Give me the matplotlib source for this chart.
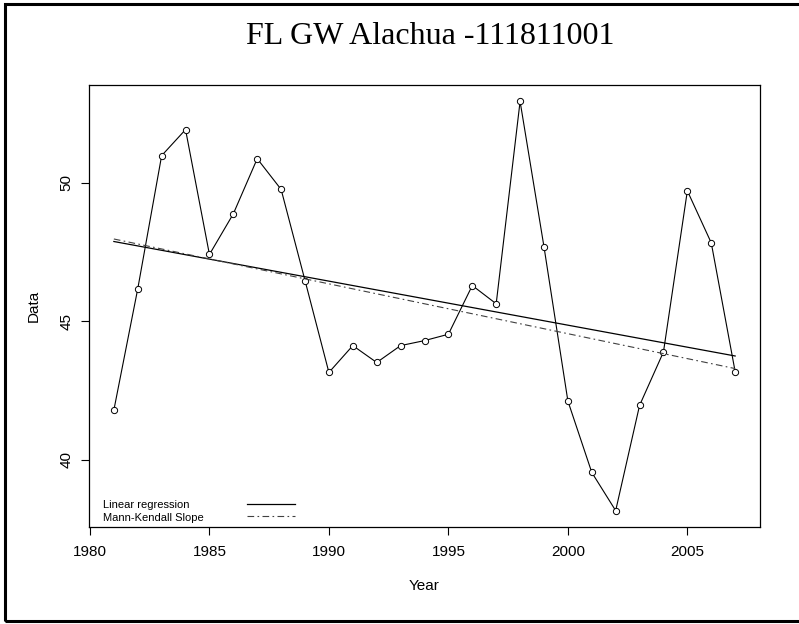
import numpy as np
import matplotlib
matplotlib.use('Agg')
import matplotlib.pyplot as plt
from matplotlib.patches import Rectangle
from matplotlib.lines import Line2D

# yearly values
years = np.arange(1981, 2008)
values = [41.79, 46.17, 50.98, 51.92, 47.41, 48.88, 50.87, 49.76, 46.47,
          43.15, 44.12, 43.51, 44.12, 44.30, 44.53, 46.29, 45.63, 52.94,
          47.69, 42.12, 39.54, 38.16, 41.96, 43.89, 49.71, 47.83, 43.18]
x_ticks = [1980, 1985, 1990, 1995, 2000, 2005]
y_ticks = [40, 45, 50]
legend_labels = ['Linear regression', 'Mann-Kendall Slope']
title = 'FL GW Alachua -111811001'

y = np.array(values)

# ordinary least squares
lr_slope, lr_int = np.polyfit(years, y, 1)

# Sen slope (median of pairwise slopes), intercept through the medians
pair_slopes = [(y[j] - y[i]) / (years[j] - years[i])
               for i in range(len(y)) for j in range(i + 1, len(y))]
mk_slope = np.median(pair_slopes)
mk_int = np.median(y) - mk_slope * np.median(years)

mk_style = (0, (6, 3, 1.5, 3))

plt.rcParams['font.family'] = ['Liberation Sans', 'DejaVu Sans']

fig = plt.figure(figsize=(7.99, 6.24), dpi=100)
ax = fig.add_axes([89/799, 1 - 527/624, (760 - 89)/799, (527 - 85)/624])

ax.plot(years, y, color='black', lw=0.8, marker='o', ms=4.5,
        mfc='white', mec='black', mew=0.7)
ax.plot(years, lr_int + lr_slope * years, color='black', lw=0.9)
ax.plot(years, mk_int + mk_slope * years, color='0.25', lw=0.8,
        linestyle=mk_style)

# R-style 4% padding
xr = years.max() - years.min()
yr = y.max() - y.min()
ax.set_xlim(years.min() - 0.04 * xr, years.max() + 0.04 * xr)
ax.set_ylim(y.min() - 0.04 * yr, y.max() + 0.04 * yr)

ax.set_xticks(x_ticks)
ax.set_yticks(y_ticks)
ax.tick_params(direction='out', length=6, width=0.8, labelsize=11)
ax.tick_params(axis='x', pad=7)
ax.tick_params(axis='y', pad=5)
for lab in ax.get_yticklabels():
    lab.set_rotation(90)
    lab.set_va('center')
for s in ax.spines.values():
    s.set_linewidth(0.9)

ax.text(0.5, -0.133, 'Year', transform=ax.transAxes, ha='center',
        va='center', fontsize=11)
ax.text(-0.083, 0.5, 'Data', transform=ax.transAxes, ha='center',
        va='center', rotation=90, fontsize=11)

# legend block, R style: labels left-aligned, keys to the right
key_styles = [dict(color='black', lw=0.9),
              dict(color='0.25', lw=0.8, linestyle=mk_style)]
for i, (lab, st) in enumerate(zip(legend_labels, key_styles)):
    yy = 0.049 - i * 0.028
    ax.text(0.021, yy, lab, transform=ax.transAxes, ha='left',
            va='center', fontsize=8)
    ax.add_line(Line2D([0.2355, 0.307], [yy + 0.003, yy + 0.003],
                       transform=ax.transAxes, **st))

fig.text(430/799, 1 - 44/624, title, ha='center', va='baseline',
         fontsize=23, family=['Liberation Serif', 'DejaVu Serif'])

# outer frame
fig.add_artist(Rectangle((5/799, 3/624), 1.0, 1 - 7/624,
                         transform=fig.transFigure, fill=False,
                         lw=2.2, edgecolor='black'))

fig.savefig('out.png', dpi=100)
